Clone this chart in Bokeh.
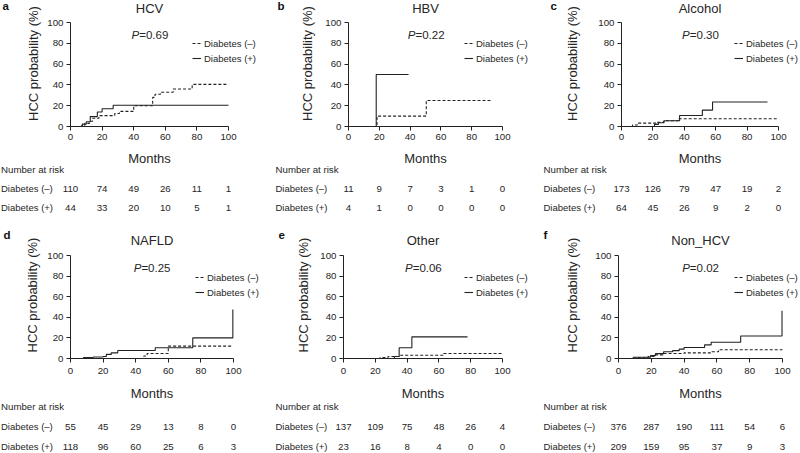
import math
from bokeh.plotting import figure
from bokeh.layouts import column, row
from bokeh.models import (Range1d, FixedTicker, Label, ColumnDataSource,
                          Legend, LegendItem)
from bokeh.core.properties import value
from bokeh.embed import file_html
from bokeh.resources import INLINE

# ---------------- data ----------------
month_ticks = [0, 20, 40, 60, 80, 100]
prob_ticks = [0, 20, 40, 60, 80, 100]

panel_letters = ["a", "b", "c", "d", "e", "f"]
panel_titles = ["HCV", "HBV", "Alcohol", "NAFLD", "Other", "Non_HCV"]
p_values = ["0.69", "0.22", "0.30", "0.25", "0.06", "0.02"]
group_labels = ["Diabetes (\u2013)", "Diabetes (+)"]

# cumulative HCC probability (%) step curves: event months / value after step
hcv_neg_t = [0, 7, 9, 12, 14, 18, 28, 31, 40, 52, 53.5, 57, 65, 77, 100]
hcv_neg_p = [0, 1, 3, 5, 8, 10.5, 12.5, 14.5, 20, 28, 31, 33, 36, 40.5, 40.5]
hcv_pos_t = [0, 7.5, 10, 12.5, 17, 20, 27, 100]
hcv_pos_p = [0, 2.3, 4.6, 9.5, 14, 17, 20.5, 20.5]

hbv_neg_t = [0, 18.5, 50.5, 93]
hbv_neg_p = [0, 10, 25, 25]
hbv_pos_t = [0, 18, 39]
hbv_pos_p = [0, 50, 50]

alc_neg_t = [0, 7, 10, 22, 27, 36, 100]
alc_neg_p = [0, 1.5, 3.2, 4, 5.5, 7.5, 7.5]
alc_pos_t = [0, 21, 23.5, 27, 37, 51.5, 58, 93]
alc_pos_p = [0, 2, 3.6, 5.6, 10.6, 15.7, 23.5, 23.5]

nafld_neg_t = [0, 45, 47, 60, 99.5]
nafld_neg_p = [0, 2.5, 4.8, 12, 12]
nafld_pos_t = [0, 8, 14, 20, 22, 25, 29, 52, 75, 99.6]
nafld_pos_p = [0, 1, 1.5, 2, 4, 5.5, 7.7, 10.5, 20, 47.5]

other_neg_t = [0, 23, 28, 35, 63, 100]
other_neg_p = [0, 1, 2, 3.2, 4.8, 4.8]
other_pos_t = [0, 32, 35, 43, 78]
other_pos_p = [0, 2, 10.5, 21, 21]

nonhcv_neg_t = [0, 10, 18, 22, 27, 40, 57, 61, 100]
nonhcv_neg_p = [0, 0.8, 2, 3.5, 4.8, 5.5, 6.5, 8.5, 8.5]
nonhcv_pos_t = [0, 9, 19.5, 22.5, 27.5, 33, 37, 40, 52.5, 56.5, 74.5, 99.7]
nonhcv_pos_p = [0, 1.2, 2.8, 4.7, 6.6, 7.6, 9.1, 10.7, 13.2, 15.8, 21.8, 46.4]

# number at risk at 0, 20, 40, 60, 80, 100 months
hcv_risk_neg = [110, 74, 49, 26, 11, 1]
hcv_risk_pos = [44, 33, 20, 10, 5, 1]
hbv_risk_neg = [11, 9, 7, 3, 1, 0]
hbv_risk_pos = [4, 1, 0, 0, 0, 0]
alc_risk_neg = [173, 126, 79, 47, 19, 2]
alc_risk_pos = [64, 45, 26, 9, 2, 0]
nafld_risk_neg = [55, 45, 29, 13, 8, 0]
nafld_risk_pos = [118, 96, 60, 25, 6, 3]
other_risk_neg = [137, 109, 75, 48, 26, 4]
other_risk_pos = [23, 16, 8, 4, 0, 0]
nonhcv_risk_neg = [376, 287, 190, 111, 54, 6]
nonhcv_risk_pos = [209, 159, 95, 37, 9, 3]

curves = [
    (hcv_neg_t, hcv_neg_p, hcv_pos_t, hcv_pos_p),
    (hbv_neg_t, hbv_neg_p, hbv_pos_t, hbv_pos_p),
    (alc_neg_t, alc_neg_p, alc_pos_t, alc_pos_p),
    (nafld_neg_t, nafld_neg_p, nafld_pos_t, nafld_pos_p),
    (other_neg_t, other_neg_p, other_pos_t, other_pos_p),
    (nonhcv_neg_t, nonhcv_neg_p, nonhcv_pos_t, nonhcv_pos_p),
]
risks = [
    (hcv_risk_neg, hcv_risk_pos), (hbv_risk_neg, hbv_risk_pos),
    (alc_risk_neg, alc_risk_pos), (nafld_risk_neg, nafld_risk_pos),
    (other_risk_neg, other_risk_pos), (nonhcv_risk_neg, nonhcv_risk_pos),
]

# ---------------- layout (page pixel positions) ----------------
FONT = "Liberation Sans"
TXT = "#262626"
LINE = "#222222"
YAX_W = 26      # width reserved for y tick labels
XAX_H = 22      # height reserved for x tick labels

rows_geo = [
    dict(top=0, km_bottom=148, bottom=218, y100=22, axis=126, tick_standoff=3,
         title_y=8, letter_y=6, p_y=34, months_y=158, nar_y=169, neg_y=188, pos_y=207,
         leg_y=62),
    dict(top=218, km_bottom=380, bottom=453, y100=255, axis=358, tick_standoff=5,
         title_y=240, letter_y=237, p_y=267, months_y=393, nar_y=406, neg_y=426,
         pos_y=446, leg_y=60),
]
cols_geo = [
    # column span, frame left/width (0..100 months), legend x, row-label x, letter x, y-label x
    dict(cl=0, cr=265, fl=70, fw=158, lx=122, rx=0.5, ltx=2, ylx=33),
    dict(cl=265, cr=530, fl=348, fw=154, lx=116, rx=275, ltx=277, ylx=307),
    dict(cl=530, cr=800, fl=621, fw=157, lx=113, rx=543, ltx=550, ylx=572),
    dict(cl=0, cr=265, fl=70, fw=163, lx=125, rx=0.5, ltx=3, ylx=32),
    dict(cl=265, cr=530, fl=343, fw=159, lx=121, rx=275, ltx=278, ylx=303),
    dict(cl=530, cr=800, fl=618, fw=164, lx=116, rx=543, ltx=543, ylx=572),
]


def blank_fig(w, h, xr, yr):
    f = figure(width=w, height=h, x_range=xr, y_range=yr, output_backend="svg",
               toolbar_location=None, x_axis_location=None, y_axis_location=None,
               min_border=0)
    f.outline_line_color = None
    f.grid.visible = False
    f.background_fill_color = "white"
    return f


def text_kw(size, align="left", style="normal", color=TXT):
    return dict(text_font=value(FONT), text_font_size=value(size), text_align=align,
                text_baseline="middle", text_font_style=style, text_color=color)


def make_panel(i):
    rg = rows_geo[i // 3]
    cg = cols_geo[i]
    fl, fw = cg["fl"], cg["fw"]
    ax_y, fh = rg["axis"], rg["axis"] - rg["y100"]

    def xd(px):
        return (px - fl) * 100.0 / fw

    def yd(py):
        return (ax_y - py) * 100.0 / fh

    # ---- left strip: panel letter + y axis title ----
    left_w = fl - YAX_W - cg["cl"]
    km_h = rg["km_bottom"] - rg["top"]
    lf = blank_fig(left_w, km_h, Range1d(cg["cl"], fl - YAX_W),
                   Range1d(rg["km_bottom"], rg["top"]))
    lf.text(x=[cg["ltx"]], y=[rg["letter_y"]], text=[panel_letters[i]],
            **text_kw("11.5px", style="bold", color="#111111"))
    lf.text(x=[cg["ylx"]], y=[(ax_y + rg["y100"]) / 2.0], text=["HCC probability (%)"],
            angle=math.pi / 2, **text_kw("13px", align="center"))

    # ---- Kaplan-Meier plot ----
    km_w = cg["cr"] - (fl - YAX_W)
    p = figure(width=km_w, height=km_h, x_range=Range1d(0, xd(cg["cr"])),
               y_range=Range1d(0, yd(rg["top"])), output_backend="svg",
               toolbar_location=None, min_border_left=YAX_W, min_border_right=0,
               min_border_top=0, min_border_bottom=XAX_H)
    p.outline_line_color = None
    p.grid.visible = False
    p.background_fill_color = "white"
    for ax, ticks in ((p.xaxis, month_ticks), (p.yaxis, prob_ticks)):
        ax.ticker = FixedTicker(ticks=ticks)
        ax.bounds = (0, 100)
        ax.minor_tick_line_color = None
        ax.major_tick_in = 0
        ax.major_tick_out = 4
        ax.major_label_standoff = 3
        ax.axis_line_color = LINE
        ax.major_tick_line_color = LINE
        ax.major_label_text_font = FONT
        ax.major_label_text_font_size = "9.7px"
        ax.major_label_text_color = TXT
    p.xaxis.major_label_standoff = rg["tick_standoff"]

    nt, npv, pt, ppv = curves[i]
    r_neg = p.step(nt, npv, mode="after", line_color=LINE, line_width=1.1,
                   line_dash="3 2")
    r_pos = p.step(pt, ppv, mode="after", line_color=LINE, line_width=1.1)

    legend = Legend(items=[LegendItem(label=group_labels[0], renderers=[r_neg]),
                           LegendItem(label=group_labels[1], renderers=[r_pos])],
                    location=(cg["lx"], rg["leg_y"]), orientation="vertical",
                    glyph_width=9, glyph_height=12, label_height=12, spacing=3,
                    padding=0, margin=0, label_standoff=3,
                    border_line_color=None, background_fill_alpha=0,
                    label_text_font=FONT, label_text_font_size="9.5px",
                    label_text_color=TXT)
    p.add_layout(legend)

    p.add_layout(Label(x=50, y=yd(rg["title_y"]), text=panel_titles[i],
                       text_align="center", text_baseline="middle", text_font=FONT,
                       text_font_size="13px", text_color=TXT))
    p.add_layout(Label(x=43.5, y=yd(rg["p_y"]), text="P", text_align="right",
                       text_baseline="middle", text_font=FONT, text_font_size="11.5px",
                       text_font_style="italic", text_color=TXT))
    p.add_layout(Label(x=43.5, y=yd(rg["p_y"]), text="=" + p_values[i], text_align="left",
                       text_baseline="middle", text_font=FONT, text_font_size="11.5px",
                       text_color=TXT))

    # ---- number at risk table (shares the month scale of the plot) ----
    tab_h = rg["bottom"] - rg["km_bottom"]
    tf = blank_fig(cg["cr"] - cg["cl"], tab_h, Range1d(xd(cg["cl"]), xd(cg["cr"])),
                   Range1d(rg["bottom"], rg["km_bottom"]))
    tf.text(x=[50], y=[rg["months_y"]], text=["Months"], **text_kw("13px", align="center"))
    tf.text(x=[xd(cg["rx"])], y=[rg["nar_y"]], text=["Number at risk"], **text_kw("9.7px"))
    neg, pos = risks[i]
    for lab, vals, key in ((group_labels[0], neg, "neg_y"), (group_labels[1], pos, "pos_y")):
        tf.text(x=[xd(cg["rx"])], y=[rg[key]], text=[lab], **text_kw("9.5px"))
        src = ColumnDataSource(dict(x=month_ticks, y=[rg[key]] * len(month_ticks),
                                    text=[str(v) for v in vals]))
        tf.text(x="x", y="y", text="text", source=src, **text_kw("9.7px", align="center"))

    return column(row(lf, p), tf)


panels = [make_panel(i) for i in range(6)]
layout = column(row(*panels[:3]), row(*panels[3:]))

open("out.html", "w").write(file_html(layout, INLINE))
